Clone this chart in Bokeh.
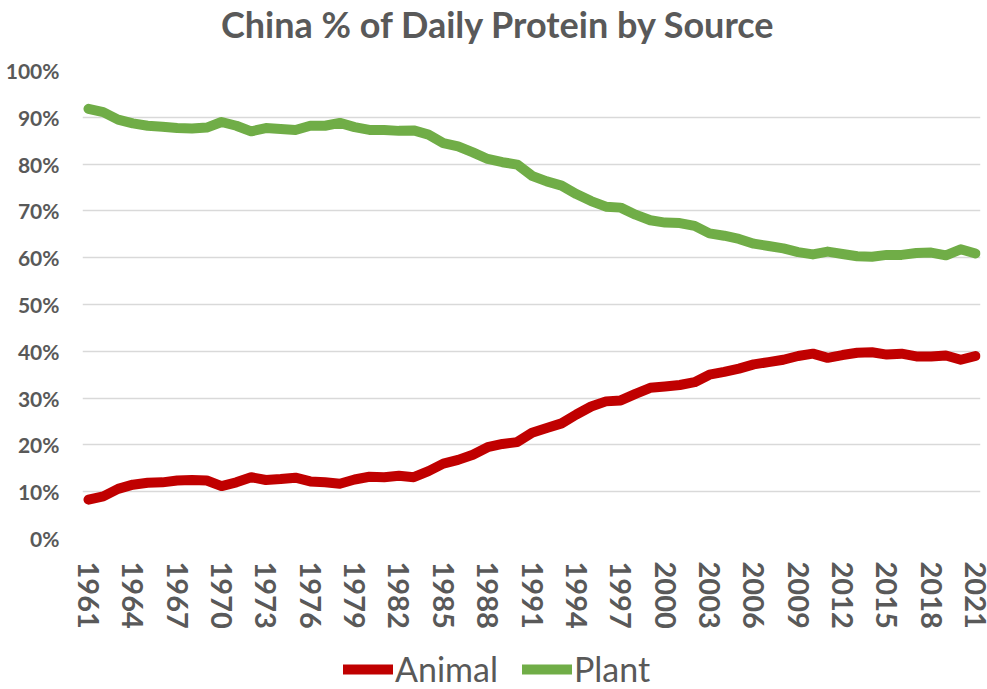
from bokeh.plotting import figure
from bokeh.layouts import column
from bokeh.models import FixedTicker, Label, Legend, LegendItem, Range1d
from bokeh.embed import file_html
from bokeh.resources import INLINE

title_text = "China % of Daily Protein by Source"
years = list(range(1961, 2022))
animal = [8.3, 9.0, 10.6, 11.5, 11.9, 12.0, 12.4, 12.5, 12.4, 11.2,
          12.0, 13.1, 12.5, 12.7, 13.0, 12.2, 12.0, 11.7, 12.6, 13.2,
          13.1, 13.4, 13.1, 14.4, 16.0, 16.8, 17.9, 19.5, 20.2, 20.6,
          22.6, 23.6, 24.6, 26.5, 28.2, 29.3, 29.5, 30.9, 32.2, 32.5,
          32.8, 33.4, 35.0, 35.6, 36.3, 37.2, 37.7, 38.2, 39.0, 39.5,
          38.6, 39.2, 39.7, 39.8, 39.3, 39.5, 38.9, 38.9, 39.1, 38.2,
          39.0]
plant = [91.8, 91.1, 89.5, 88.7, 88.2, 88.0, 87.7, 87.6, 87.8, 89.0,
         88.2, 87.0, 87.7, 87.5, 87.3, 88.2, 88.2, 88.8, 87.9, 87.3,
         87.3, 87.1, 87.2, 86.3, 84.5, 83.8, 82.5, 81.1, 80.4, 79.9,
         77.5, 76.3, 75.4, 73.6, 72.1, 70.9, 70.7, 69.2, 68.0, 67.5,
         67.4, 66.8, 65.2, 64.7, 64.0, 63.0, 62.5, 62.0, 61.2, 60.7,
         61.3, 60.8, 60.3, 60.2, 60.6, 60.6, 61.0, 61.1, 60.5, 61.8,
         60.9]
series_names = ["Animal", "Plant"]
series_values = [animal, plant]
series_colors = ["#C00000", "#70AD47"]
x_ticks = list(range(1961, 2022, 3))
y_ticks = list(range(0, 101, 10))
y_labels = [f"{t}%" for t in y_ticks]

TEXT = "#595959"
FONT = "Lato"
LINE_W = 10
W = 987


def strip(height):
    f = figure(width=W, height=height, output_backend="svg", toolbar_location=None,
               x_range=Range1d(0, 1), y_range=Range1d(0, 1),
               x_axis_location=None, y_axis_location=None,
               min_border_left=0, min_border_right=0, min_border_top=0,
               min_border_bottom=0)
    f.outline_line_color = None
    f.grid.visible = False
    return f


# ---- title strip ----
ts = strip(50)
ts.add_layout(Label(x=416, y=27, x_units="screen", y_units="screen", text=title_text,
                    text_align="center", text_baseline="alphabetic",
                    text_font=FONT, text_font_style="bold", text_font_size="36px",
                    text_color=TEXT))

# ---- main chart ----
p = figure(width=W, height=595, output_backend="svg", toolbar_location=None,
           x_range=Range1d(1960.594, 2021.338), y_range=Range1d(0, 100),
           min_border_left=82, min_border_right=7, min_border_top=20,
           min_border_bottom=107)
p.outline_line_color = None
p.background_fill_color = "white"
p.border_fill_color = "white"

p.xgrid.grid_line_color = None
p.ygrid.grid_line_color = "#D9D9D9"
p.ygrid.grid_line_width = 1.3
p.ygrid.ticker = FixedTicker(ticks=y_ticks)

p.yaxis.ticker = FixedTicker(ticks=y_ticks)
p.yaxis.major_label_overrides = {t: l for t, l in zip(y_ticks, y_labels)}
p.xaxis.ticker = FixedTicker(ticks=x_ticks)
for ax in (p.xaxis, p.yaxis):
    ax.axis_line_color = None
    ax.major_tick_line_color = None
    ax.minor_tick_line_color = None
    ax.major_tick_in = 0
    ax.major_tick_out = 0
    ax.major_label_text_color = TEXT
    ax.major_label_text_font = FONT
    ax.major_label_text_font_style = "bold"
p.yaxis.major_label_text_font_size = "21px"
p.yaxis.major_label_standoff = 23
p.xaxis.major_label_text_font_size = "29px"
p.xaxis.major_label_orientation = "vertical"
p.xaxis.major_label_standoff = 23

for vals, color in zip(series_values, series_colors):
    p.line(years, vals, line_color=color, line_width=LINE_W,
           line_cap="round", line_join="round")

# ---- legend strip (its lines fall outside this strip's ranges) ----
lg = strip(44)
legend_renderers = []
for vals, color in zip(series_values, series_colors):
    r = lg.line(years, vals, line_color=color, line_width=LINE_W, line_cap="round")
    legend_renderers.append(r)

legend = Legend(items=[LegendItem(label=n, renderers=[r]) for n, r in zip(series_names, legend_renderers)],
                orientation="horizontal", location=(261, 0),
                border_line_color=None, background_fill_alpha=0,
                padding=0, margin=0, spacing=24, label_standoff=2,
                glyph_width=50, glyph_height=30,
                label_text_font=FONT, label_text_font_size="34px",
                label_text_color=TEXT)
lg.add_layout(legend, "center")

layout = column(ts, p, lg, spacing=0)
open("out.html", "w").write(file_html(layout, INLINE))
